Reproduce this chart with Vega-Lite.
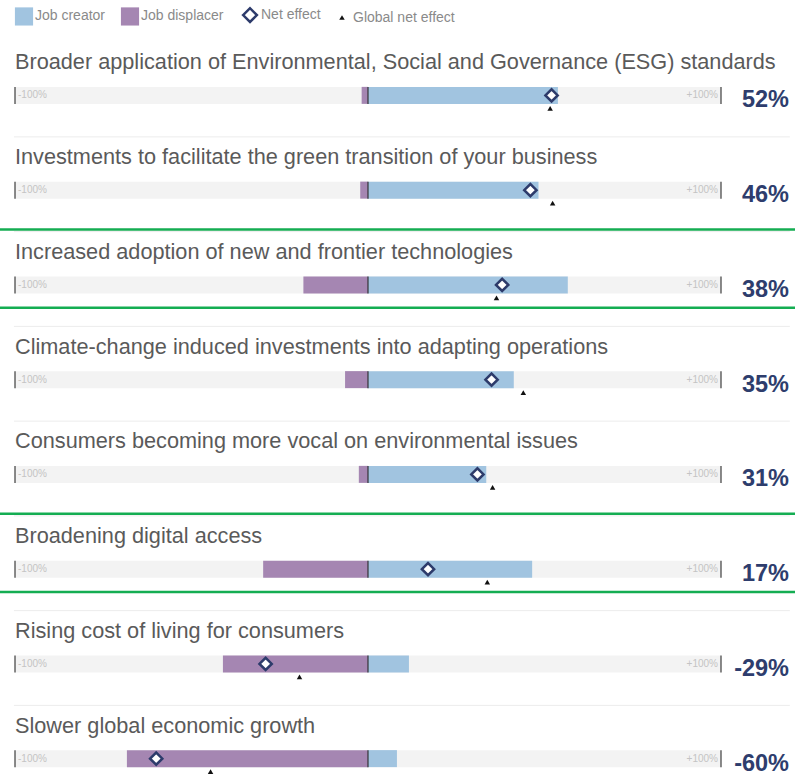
{
  "$schema": "https://vega.github.io/schema/vega-lite/v6.json",
  "width": 795,
  "height": 774,
  "autosize": {"type": "none"},
  "padding": 0,
  "background": "white",
  "config": {
    "view": {"stroke": null},
    "axis": {"disable": true},
    "font": "Liberation Sans"
  },
  "data": {
    "values": [
      {"label": "Broader application of Environmental, Social and Governance (ESG) standards", "Job creator": 53.8, "Job displacer": -1.8, "Net effect": 52, "Global net effect": 51.6, "pct": "52%", "highlight": false},
      {"label": "Investments to facilitate the green transition of your business", "Job creator": 48.3, "Job displacer": -2.2, "Net effect": 46, "Global net effect": 52.3, "pct": "46%", "highlight": false},
      {"label": "Increased adoption of new and frontier technologies", "Job creator": 56.6, "Job displacer": -18.3, "Net effect": 38, "Global net effect": 36.4, "pct": "38%", "highlight": true},
      {"label": "Climate-change induced investments into adapting operations", "Job creator": 41.3, "Job displacer": -6.5, "Net effect": 35, "Global net effect": 44, "pct": "35%", "highlight": false},
      {"label": "Consumers becoming more vocal on environmental issues", "Job creator": 33.5, "Job displacer": -2.6, "Net effect": 31, "Global net effect": 35.3, "pct": "31%", "highlight": false},
      {"label": "Broadening digital access", "Job creator": 46.5, "Job displacer": -29.7, "Net effect": 17, "Global net effect": 33.8, "pct": "17%", "highlight": true},
      {"label": "Rising cost of living for consumers", "Job creator": 11.6, "Job displacer": -41.1, "Net effect": -29, "Global net effect": -19.4, "pct": "-29%", "highlight": false},
      {"label": "Slower global economic growth", "Job creator": 8.2, "Job displacer": -68.3, "Net effect": -60, "Global net effect": -44.6, "pct": "-60%", "highlight": false}
    ]
  },
  "encoding": {
    "y": {
      "field": "label",
      "type": "nominal",
      "sort": null,
      "scale": {"type": "band", "range": [48, 806], "paddingInner": 0, "paddingOuter": 0},
      "axis": null
    }
  },
  "layer": [
    {
      "transform": [{"filter": "datum.label !== 'Slower global economic growth'"}],
      "mark": {"type": "rule", "color": "#ececec", "strokeWidth": 1, "yOffset": 41.5},
      "encoding": {
        "x": {"datum": -100.3, "type": "quantitative", "scale": {"domain": [-100, 100], "range": [15, 721], "nice": false, "zero": false}, "axis": null},
        "x2": {"datum": 119.5}
      }
    },
    {
      "transform": [{"filter": "datum.highlight"}],
      "mark": {"type": "rule", "color": "#14ad52", "strokeWidth": 2.5, "yOffset": -55.3},
      "encoding": {}
    },
    {
      "transform": [{"filter": "datum.highlight"}],
      "mark": {"type": "rule", "color": "#14ad52", "strokeWidth": 2.5, "yOffset": 22.8},
      "encoding": {}
    },
    {
      "mark": {"type": "bar", "height": 17, "color": "#f3f3f3"},
      "encoding": {
        "x": {"datum": -100, "type": "quantitative"},
        "x2": {"datum": 100}
      }
    },
    {
      "transform": [{"fold": ["Job creator", "Job displacer"], "as": ["series", "value"]}],
      "mark": {"type": "bar", "height": 17},
      "encoding": {
        "x": {"field": "value", "type": "quantitative"},
        "x2": {"datum": 0},
        "color": {
          "field": "series",
          "type": "nominal",
          "scale": {
            "domain": ["Job creator", "Job displacer", "Net effect", "Global net effect"],
            "range": ["#a1c4e0", "#a586b2", "#ffffff", "#111111"]
          },
          "legend": {
            "orient": "none",
            "legendX": 17,
            "legendY": 8,
            "direction": "horizontal",
            "title": null,
            "padding": 0,
            "symbolSize": 330,
            "symbolType": "square",
            "symbolStrokeWidth": 0,
            "labelFontSize": 14,
            "labelColor": "#8a8a8a",
            "labelFont": "Liberation Sans",
            "labelOffset": 4,
            "columnPadding": 14,
            "encode": {
              "symbols": {
                "update": {
                  "shape": {"signal": "datum.value === 'Net effect' ? 'diamond' : datum.value === 'Global net effect' ? 'triangle-up' : 'square'"},
                  "size": {"signal": "datum.value === 'Global net effect' ? 30 : datum.value === 'Net effect' ? 190 : 330"},
                  "stroke": {"signal": "datum.value === 'Net effect' ? '#2d3b6b' : 'transparent'"},
                  "strokeWidth": {"signal": "datum.value === 'Net effect' ? 2.5 : 0"}
                }
              }
            }
          }
        }
      }
    },
    {
      "mark": {"type": "tick", "size": 17, "thickness": 1.5, "color": "#222222"},
      "encoding": {"x": {"datum": -100, "type": "quantitative"}}
    },
    {
      "mark": {"type": "tick", "size": 17, "thickness": 1.5, "color": "#222222"},
      "encoding": {"x": {"datum": 0, "type": "quantitative"}}
    },
    {
      "mark": {"type": "tick", "size": 17, "thickness": 1.5, "color": "#222222"},
      "encoding": {"x": {"datum": 100, "type": "quantitative"}}
    },
    {
      "mark": {"type": "text", "align": "left", "baseline": "middle", "dx": 3, "fontSize": 10, "color": "#c4c4c4"},
      "encoding": {"x": {"datum": -100, "type": "quantitative"}, "text": {"value": "-100%"}}
    },
    {
      "mark": {"type": "text", "align": "right", "baseline": "middle", "dx": -3, "fontSize": 10, "color": "#c4c4c4"},
      "encoding": {"x": {"datum": 100, "type": "quantitative"}, "text": {"value": "+100%"}}
    },
    {
      "mark": {"type": "point", "shape": "diamond", "filled": true, "fill": "#ffffff", "stroke": "#2d3b6b", "strokeWidth": 2.5, "size": 150, "opacity": 1},
      "encoding": {"x": {"field": "Net effect", "type": "quantitative"}}
    },
    {
      "mark": {"type": "point", "shape": "triangle-up", "filled": true, "color": "#111111", "size": 30, "yOffset": 13, "opacity": 1},
      "encoding": {"x": {"field": "Global net effect", "type": "quantitative"}}
    },
    {
      "mark": {"type": "text", "align": "left", "baseline": "alphabetic", "dy": -26, "fontSize": 21.7, "color": "#5a5a5a"},
      "encoding": {"x": {"datum": -100, "type": "quantitative"}, "text": {"field": "label"}}
    },
    {
      "mark": {"type": "text", "align": "right", "baseline": "middle", "dx": 68, "dy": 5, "fontSize": 23.5, "fontWeight": "bold", "color": "#2e3d6d"},
      "encoding": {"x": {"datum": 100, "type": "quantitative"}, "text": {"field": "pct"}}
    }
  ]
}
